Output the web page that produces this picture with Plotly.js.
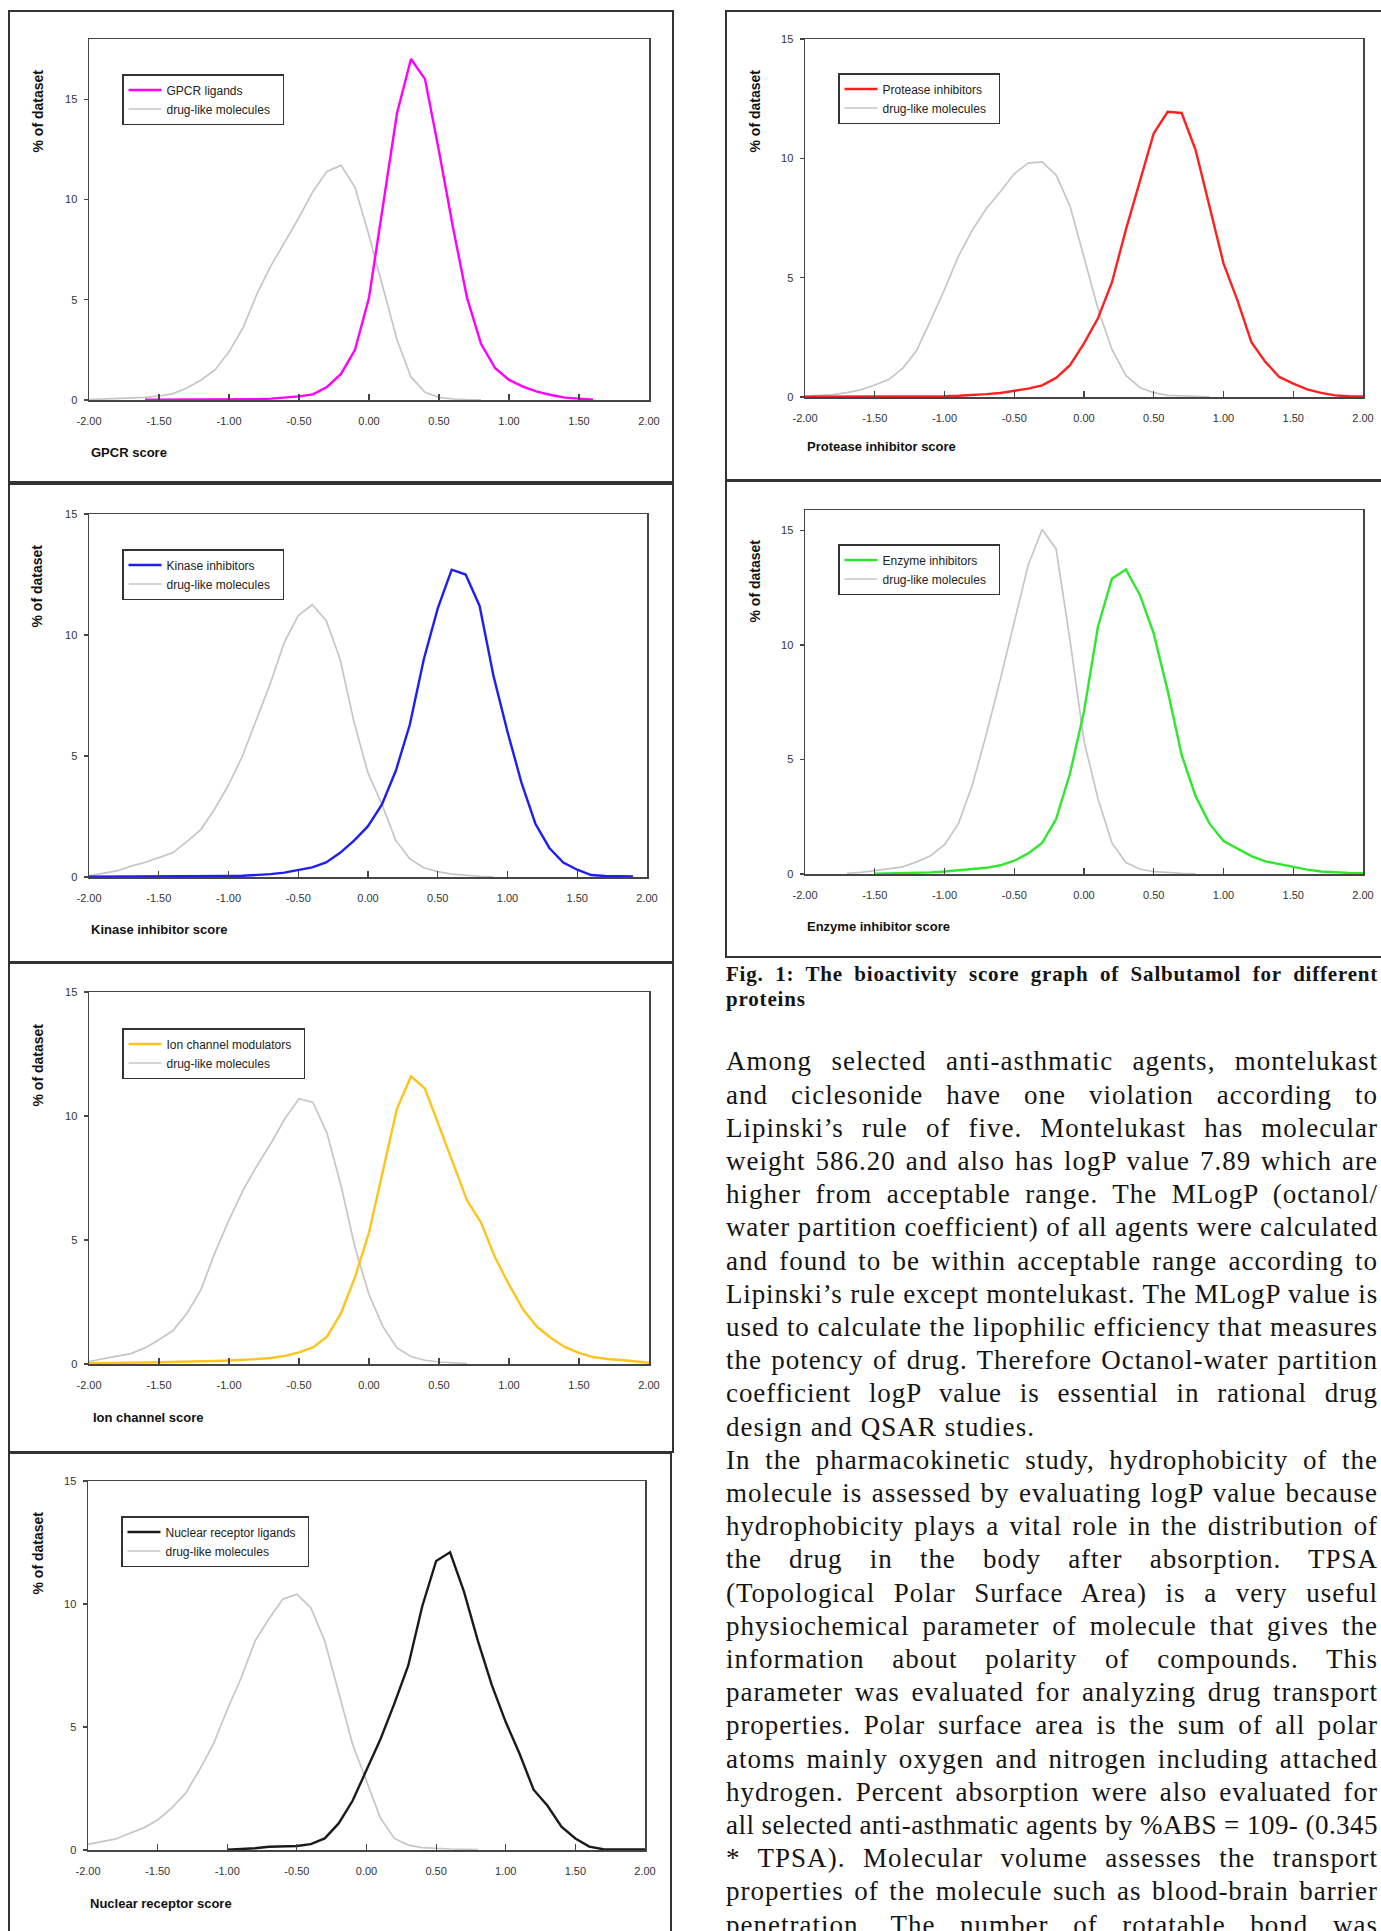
<!DOCTYPE html>
<html>
<head>
<meta charset="utf-8">
<script src="https://cdn.plot.ly/plotly-3.0.1.min.js"></script>
<style>
html,body{margin:0;padding:0;background:#fff;width:1381px;height:1931px;overflow:hidden;position:relative}
#chart{position:absolute;left:0;top:0;width:1381px;height:1931px}
.ln{position:absolute;left:726px;white-space:nowrap;color:#141414;font-family:"Liberation Serif","Times New Roman",serif}
.ln span{display:inline-block;white-space:nowrap}
.body{font-size:27px;line-height:33.2px;height:33.2px}
.cap{font-size:21px;font-weight:bold;line-height:25px;height:25px}
</style>
</head>
<body>
<div id="chart"></div>
<div id="text"></div>
<script>
// ---------------- DATA ----------------
const scoreX = [-2.0,-1.9,-1.8,-1.7,-1.6,-1.5,-1.4,-1.3,-1.2,-1.1,-1.0,-0.9,-0.8,-0.7,-0.6,-0.5,-0.4,-0.3,-0.2,-0.1,0.0,0.1,0.2,0.3,0.4,0.5,0.6,0.7,0.8,0.9,1.0,1.1,1.2,1.3,1.4,1.5,1.6,1.7,1.8,1.9,2.0];
const xTickVals = [-2,-1.5,-1,-0.5,0,0.5,1,1.5,2];
const xTickLabels = ['-2.00','-1.50','-1.00','-0.50','0.00','0.50','1.00','1.50','2.00'];
const yTickVals = [0,5,10,15];
const yTickLabels = ['0','5','10','15'];

const gpcrLigands = [null,null,null,null,0.01,0.01,0.01,0.01,0.01,0.02,0.02,0.03,0.04,0.07,0.12,0.18,0.28,0.65,1.3,2.5,5.1,9.8,14.3,17.0,16.0,12.4,8.6,5.1,2.8,1.6,1.0,0.67,0.42,0.25,0.12,0.07,0.02,null,null,null,null];
const gpcrDrugLike = [0.02,0.04,0.06,0.09,0.13,0.2,0.32,0.6,1.0,1.5,2.4,3.6,5.3,6.7,7.9,9.1,10.4,11.4,11.7,10.6,8.2,5.6,3.0,1.15,0.38,0.13,0.05,0.02,0.01,null,null,null,null,null,null,null,null,null,null,null,null];

const kinaseInhibitors = [0.01,0.01,0.01,0.01,0.01,0.01,0.01,0.01,0.01,0.02,0.04,0.05,0.07,0.12,0.18,0.28,0.4,0.6,1.0,1.5,2.1,3.0,4.4,6.3,9.0,11.1,12.7,12.5,11.2,8.3,6.0,3.9,2.2,1.2,0.6,0.3,0.08,0.04,0.03,0.02,null];
const kinaseDrugLike = [0.05,0.15,0.25,0.45,0.6,0.8,1.0,1.45,1.95,2.8,3.8,5.0,6.5,8.0,9.7,10.8,11.25,10.6,9.0,6.4,4.3,3.0,1.5,0.75,0.38,0.22,0.12,0.06,0.03,0.01,null,null,null,null,null,null,null,null,null,null,null];

const ionModulators = [0.03,0.03,0.04,0.05,0.06,0.07,0.08,0.08,0.09,0.12,0.14,0.16,0.2,0.24,0.33,0.47,0.67,1.1,2.05,3.5,5.3,7.8,10.3,11.6,11.1,9.6,8.1,6.6,5.7,4.3,3.2,2.2,1.5,1.05,0.68,0.45,0.28,0.2,0.16,0.1,0.05];
const ionDrugLike = [0.1,0.22,0.32,0.42,0.65,0.98,1.35,2.05,3.0,4.5,5.8,7.0,8.0,8.9,9.9,10.7,10.55,9.3,7.2,4.7,2.8,1.5,0.65,0.3,0.15,0.08,0.04,0.02,null,null,null,null,null,null,null,null,null,null,null,null,null];

const nuclearLigands = [null,null,null,null,null,null,null,null,null,null,0.01,0.03,0.07,0.13,0.13,0.16,0.24,0.47,1.08,2.0,3.25,4.5,5.95,7.5,9.9,11.75,12.1,10.5,8.5,6.7,5.2,3.9,2.45,1.8,0.95,0.47,0.14,0.03,0.02,0.02,0.02];
const nuclearDrugLike = [0.23,0.34,0.45,0.68,0.9,1.22,1.7,2.3,3.25,4.3,5.7,7.0,8.5,9.4,10.2,10.4,9.85,8.5,6.4,4.3,2.8,1.3,0.47,0.2,0.1,0.06,0.04,0.03,0.02,null,null,null,null,null,null,null,null,null,null,null,null];

const proteaseInhibitors = [0.01,0.01,0.01,0.01,0.01,0.01,0.01,0.01,0.01,0.02,0.03,0.05,0.07,0.12,0.17,0.25,0.35,0.49,0.8,1.33,2.25,3.3,4.8,7.0,9.0,11.05,11.95,11.9,10.35,8.0,5.6,4.05,2.3,1.47,0.84,0.56,0.32,0.17,0.07,0.03,0.02];
const proteaseDrugLike = [0.04,0.07,0.1,0.18,0.3,0.5,0.73,1.2,1.95,3.2,4.5,5.9,7.0,7.9,8.6,9.35,9.8,9.85,9.3,8.0,5.9,3.7,2.0,0.9,0.4,0.18,0.07,0.04,0.02,0.01,null,null,null,null,null,null,null,null,null,null,null];

const enzymeInhibitors = [null,null,null,null,null,0.01,0.02,0.03,0.05,0.07,0.11,0.16,0.22,0.27,0.38,0.58,0.9,1.36,2.4,4.4,7.1,10.8,12.9,13.3,12.2,10.5,8.0,5.2,3.4,2.2,1.44,1.1,0.78,0.55,0.42,0.31,0.19,0.11,0.07,0.05,0.04];
const enzymeDrugLike = [null,null,null,0.03,0.07,0.15,0.23,0.31,0.53,0.8,1.28,2.2,3.9,6.1,8.5,11.0,13.5,15.05,14.2,10.2,5.8,3.3,1.36,0.5,0.22,0.1,0.05,0.03,0.01,null,null,null,null,null,null,null,null,null,null,null,null];

const classNames = ['GPCR ligands','Kinase inhibitors','Ion channel modulators','Nuclear receptor ligands','Protease inhibitors','Enzyme inhibitors'];
const referenceName = 'drug-like molecules';
const xTitles = ['GPCR score','Kinase inhibitor score','Ion channel score','Nuclear receptor score','Protease inhibitor score','Enzyme inhibitor score'];
const yTitle = '% of dataset';

const captionLines = ['Fig. 1: The bioactivity score graph of Salbutamol for different','proteins'];
const bodyLines = [
'Among selected anti-asthmatic agents, montelukast',
'and ciclesonide have one violation according to',
'Lipinski\u2019s rule of five. Montelukast has molecular',
'weight 586.20 and also has logP value 7.89 which are',
'higher from acceptable range. The MLogP (octanol/',
'water partition coefficient) of all agents were calculated',
'and found to be within acceptable range according to',
'Lipinski\u2019s rule except montelukast. The MLogP value is',
'used to calculate the lipophilic efficiency that measures',
'the potency of drug. Therefore Octanol-water partition',
'coefficient logP value is essential in rational drug',
'design and QSAR studies.',
'In the pharmacokinetic study, hydrophobicity of the',
'molecule is assessed by evaluating logP value because',
'hydrophobicity plays a vital role in the distribution of',
'the drug in the body after absorption. TPSA',
'(Topological Polar Surface Area) is a very useful',
'physiochemical parameter of molecule that gives the',
'information about polarity of compounds. This',
'parameter was evaluated for analyzing drug transport',
'properties. Polar surface area is the sum of all polar',
'atoms mainly oxygen and nitrogen including attached',
'hydrogen. Percent absorption were also evaluated for',
'all selected anti-asthmatic agents by %ABS = 109- (0.345',
'* TPSA). Molecular volume assesses the transport',
'properties of the molecule such as blood-brain barrier',
'penetration. The number of rotatable bond was'
];
const bodyUnjustified = [11];

// ---------------- LAYOUT ----------------
const W = 1381, H = 1931;
const px = v => v / W;
const py = v => 1 - v / H;
const sans = '"Liberation Sans Narrow","Liberation Sans",Arial,sans-serif';
const bold = '"Liberation Sans",Arial,sans-serif';
const legendPad = '\u00a0\u00a0';

const panels = [
  {cls: gpcrLigands, ref: gpcrDrugLike, color:'#FF00FF', x0:89, x1:649, y0:39, y1:400, ymax:18, leg:[122,74], yt:[37,68], xt:[89,452], box:[9,11,673,482]},
  {cls: kinaseInhibitors, ref: kinaseDrugLike, color:'#1E1EF0', x0:89, x1:647, y0:514, y1:877, ymax:15, leg:[122,549], yt:[37,543], xt:[89,929], box:[9,484,673,962]},
  {cls: ionModulators, ref: ionDrugLike, color:'#FFC41C', x0:89, x1:649, y0:992, y1:1364, ymax:15, leg:[122,1028], yt:[37,1022], xt:[91,1417], box:[9,963,673,1452]},
  {cls: nuclearLigands, ref: nuclearDrugLike, color:'#1A1A1A', x0:88, x1:645, y0:1481, y1:1850, ymax:15, leg:[121,1516], yt:[37,1510], xt:[88,1903], box:[9,1453,671,1945]},
  {cls: proteaseInhibitors, ref: proteaseDrugLike, color:'#FF2020', x0:805, x1:1363, y0:39, y1:397, ymax:15, leg:[838,73], yt:[754,68], xt:[805,447], box:[726,11,1400,480]},
  {cls: enzymeInhibitors, ref: enzymeDrugLike, color:'#2EE82E', x0:805, x1:1363, y0:510, y1:874, ymax:15.9, leg:[838,544], yt:[754,538], xt:[805,926], box:[726,481,1400,957]}
];

const traces = [];
const layout = {
  width: W, height: H,
  margin: {l:0, r:0, t:0, b:0},
  paper_bgcolor: '#fff', plot_bgcolor: '#fff',
  showlegend: true,
  shapes: [], annotations: []
};

panels.forEach((p, i) => {
  const s = i === 0 ? '' : String(i + 1);
  const legKey = 'legend' + s;
  traces.push({
    x: scoreX, y: p.ref, type: 'scatter', mode: 'lines',
    name: referenceName + legendPad, xaxis: 'x' + s, yaxis: 'y' + s,
    line: {color: '#C6C6C6', width: 1.7}, legend: legKey, legendrank: 2,
    connectgaps: false, hoverinfo: 'skip'
  });
  traces.push({
    x: scoreX, y: p.cls, type: 'scatter', mode: 'lines',
    name: classNames[i] + legendPad, xaxis: 'x' + s, yaxis: 'y' + s,
    line: {color: p.color, width: 2.4}, legend: legKey, legendrank: 1,
    connectgaps: false, hoverinfo: 'skip'
  });
  layout['xaxis' + s] = {
    domain: [px(p.x0), px(p.x1)], anchor: 'y' + s, range: [-2, 2],
    tickmode: 'array', tickvals: xTickVals, ticktext: xTickLabels,
    ticks: 'inside', ticklen: 6, tickwidth: 1.2, tickcolor: '#444',
    showline: true, mirror: true, linecolor: '#454545', linewidth: 1.5,
    showgrid: false, zeroline: false, fixedrange: true,
    tickfont: {family: sans, size: 11, color: '#333'},
    ticklabelstandoff: 10
  };
  layout['yaxis' + s] = {
    domain: [py(p.y1), py(p.y0)], anchor: 'x' + s, range: [0, p.ymax],
    tickmode: 'array', tickvals: yTickVals, ticktext: yTickLabels,
    ticks: 'outside', ticklen: 4, tickwidth: 1.2, tickcolor: '#444',
    showline: true, mirror: true, linecolor: '#454545', linewidth: 1.5,
    showgrid: false, zeroline: false, fixedrange: true,
    tickfont: {family: sans, size: 11, color: '#333'},
    ticklabelstandoff: 4
  };
  layout[legKey] = {
    x: px(p.leg[0]), y: py(p.leg[1]), xanchor: 'left', yanchor: 'top',
    xref: 'paper', yref: 'paper',
    bgcolor: '#fff', bordercolor: '#333', borderwidth: 1.5,
    font: {family: sans, size: 12, color: '#222'},
    itemwidth: 33, tracegroupgap: 0, traceorder: 'normal'
  };
  layout.annotations.push({
    text: '<b>' + yTitle + '</b>', xref: 'paper', yref: 'paper', x: px(p.yt[0]), y: py(p.yt[1]),
    xanchor: 'center', yanchor: 'top', textangle: -90, showarrow: false,
    font: {family: bold, size: 14, color: '#111'}
  });
  layout.annotations.push({
    text: '<b>' + xTitles[i] + '</b>', xref: 'paper', yref: 'paper', x: px(p.xt[0]), y: py(p.xt[1]),
    xanchor: 'left', yanchor: 'middle', showarrow: false,
    font: {family: bold, size: 13, color: '#111'}
  });
  layout.shapes.push({
    type: 'rect', xref: 'paper', yref: 'paper',
    x0: px(p.box[0]), x1: px(p.box[2]), y0: py(p.box[3]), y1: py(p.box[1]),
    line: {color: '#333', width: 2}, fillcolor: 'rgba(0,0,0,0)', layer: 'below'
  });
});

Plotly.newPlot('chart', traces, layout, {staticPlot: true, displayModeBar: false});

// ---------------- TEXT COLUMN ----------------
const textRoot = document.getElementById('text');
const colWidth = 652;
const widen = 1.09;
function addLine(str, cls, top, justify) {
  const d = document.createElement('div');
  d.className = 'ln ' + cls;
  d.style.top = top + 'px';
  const sp = document.createElement('span');
  sp.textContent = str;
  d.appendChild(sp);
  d.dataset.just = justify ? '1' : '0';
  textRoot.appendChild(d);
}
addLine(captionLines[0], 'cap', 974 - 12.5, true);
addLine(captionLines[1], 'cap', 999 - 12.5, false);
bodyLines.forEach((t, i) => {
  addLine(t, 'body', 1062 - 16.6 + i * 33.2, bodyUnjustified.indexOf(i) < 0);
});
function fitLines() {
  document.querySelectorAll('#text .ln').forEach(d => {
    const sp = d.firstChild;
    sp.style.wordSpacing = '0px'; sp.style.letterSpacing = '0px';
    const w = sp.getBoundingClientRect().width;
    const txt = sp.textContent;
    const n = txt.length;
    const spaces = (txt.match(/ /g) || []).length;
    let want = w * widen;
    if (want > colWidth) want = colWidth;
    sp.style.letterSpacing = ((want - w) / n) + 'px';
    const w2 = sp.getBoundingClientRect().width;
    if (d.dataset.just === '1' && spaces > 0 && w2 < colWidth) {
      sp.style.wordSpacing = ((colWidth - w2) / spaces) + 'px';
    }
  });
}
fitLines();
if (document.fonts && document.fonts.ready) document.fonts.ready.then(fitLines);
</script>
</body>
</html>
